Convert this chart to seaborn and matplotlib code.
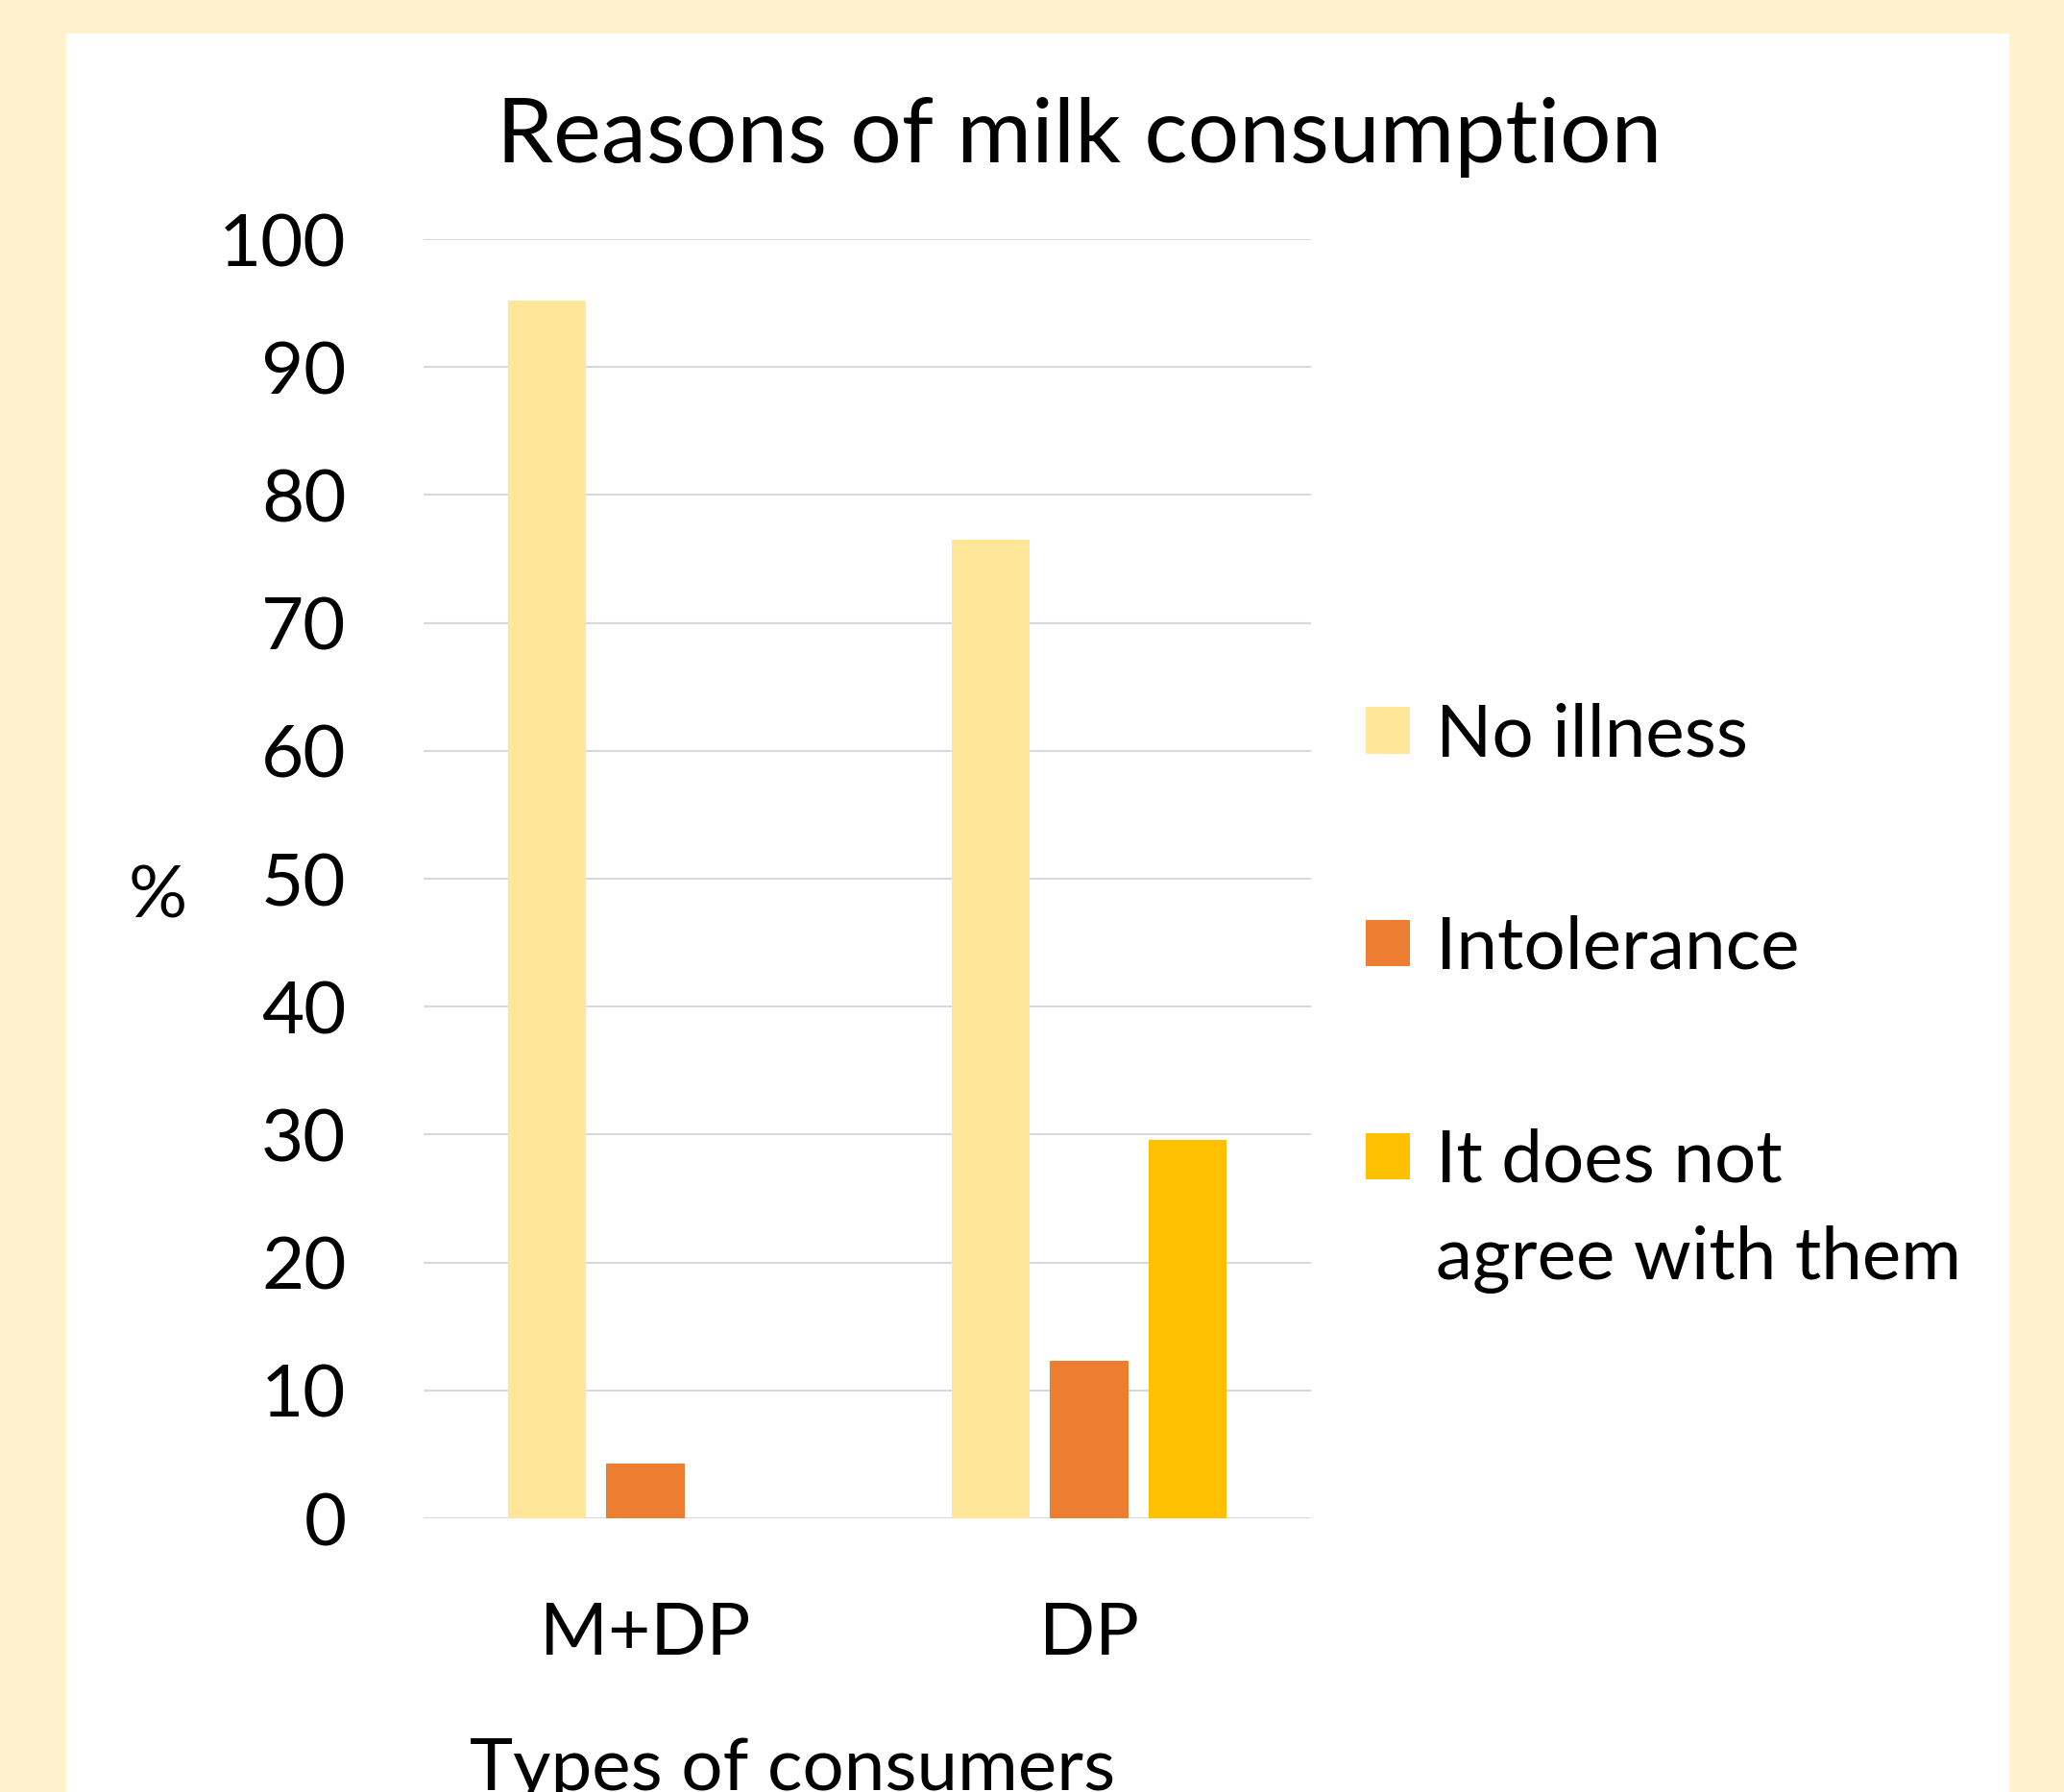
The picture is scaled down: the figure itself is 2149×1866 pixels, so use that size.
import matplotlib
matplotlib.use("Agg")
import matplotlib.pyplot as plt
from matplotlib.patches import Rectangle
import seaborn as sns
import pandas as pd

# ---- data ----
consumer_types = ["M+DP", "DP"]
reasons = ["No illness", "Intolerance", "It does not agree with them"]
no_illness = [95.2, 76.5]
intolerance = [4.3, 12.3]
does_not_agree = [0.0, 29.6]
y_ticks = [0, 10, 20, 30, 40, 50, 60, 70, 80, 90, 100]

title_text = "Reasons of milk consumption"
x_label = "Types of consumers"
y_label = "%"

colors = ["#FFE699", "#ED7D31", "#FFC000"]

rows = []
for i, c in enumerate(consumer_types):
    for r, vals in zip(reasons, [no_illness, intolerance, does_not_agree]):
        rows.append({"type": c, "reason": r, "value": vals[i]})
df = pd.DataFrame(rows)

sns.set_theme(style="white")
FONT = ["Lato", "DejaVu Sans"]
plt.rcParams["font.family"] = FONT

W, H = 2149, 1866
DPI = 100
fig = plt.figure(figsize=(W / DPI, H / DPI), dpi=DPI)
fig.patch.set_facecolor("#FFF2CC")

# white panel
fig.patches.append(Rectangle((69 / W, 0), (2092 - 69) / W, (H - 35) / H,
                             transform=fig.transFigure, facecolor="white",
                             edgecolor="none", zorder=-5))

ax_l, ax_r, ax_b, ax_t = 441, 1365, 1581, 249
ax = fig.add_axes([ax_l / W, (H - ax_b) / H, (ax_r - ax_l) / W, (ax_b - ax_t) / H])
ax.set_zorder(2)
ax.set_facecolor("none")

sns.barplot(data=df, x="type", y="value", hue="reason", order=consumer_types,
            hue_order=reasons, palette=colors, width=0.667, gap=0.21,
            saturation=1, linewidth=0, ax=ax, legend=False, errorbar=None)

ax.set_xlim(-0.5, 1.5)
ax.set_ylim(0, 100)
ax.set_yticks(y_ticks)
ax.grid(axis="y", color="#D9D9D9", linewidth=1.5)
ax.grid(axis="x", visible=False)
ax.set_axisbelow(True)
for s in ax.spines.values():
    s.set_visible(False)

FS = 55
ax.tick_params(axis="y", length=0, pad=58, labelsize=FS, labelcolor="black")
ax.tick_params(axis="x", length=0, pad=62, labelsize=FS, labelcolor="black")

ax.set_xlabel(x_label, fontsize=FS, color="black")
ax.xaxis.label.set_va("baseline")
ax.xaxis.set_label_coords((825 - ax_l) / (ax_r - ax_l), (ax_b - 1864) / (ax_b - ax_t))

ax.set_ylabel(y_label, fontsize=FS, color="black", rotation=0)
ax.yaxis.label.set_va("baseline")
ax.yaxis.label.set_ha("center")
ax.yaxis.set_label_coords((164 - ax_l) / (ax_r - ax_l), (ax_b - 955) / (ax_b - ax_t))

fig.text(1124 / W, 1 - 169 / H, title_text, ha="center", va="baseline",
         fontsize=68, color="black")

# legend
handles = [Rectangle((0, 0), 1, 1, facecolor=c, edgecolor="none") for c in colors]
leg_labels = ["No illness", "Intolerance", "It does not"]
leg = fig.legend(handles, leg_labels, loc="upper left",
                 bbox_to_anchor=(1384 / W, 1 - 693 / H), frameon=False,
                 fontsize=FS, handlelength=0.6, handleheight=0.6,
                 handletextpad=0.35, labelspacing=2.0, borderpad=0)
leg.set_zorder(3)
for t in leg.get_texts():
    t.set_color("black")

fig.canvas.draw()
t3 = leg.get_texts()[2]
bb = t3.get_window_extent()
# second line of the third entry
fig.text(bb.x0 / W, (bb.y0 - 0.55 * FS * DPI / 72 * 1.0 + 10) / H, "agree with them",
         ha="left", va="top", fontsize=FS, color="black")

fig.savefig("out.png", dpi=DPI, facecolor=fig.get_facecolor())
